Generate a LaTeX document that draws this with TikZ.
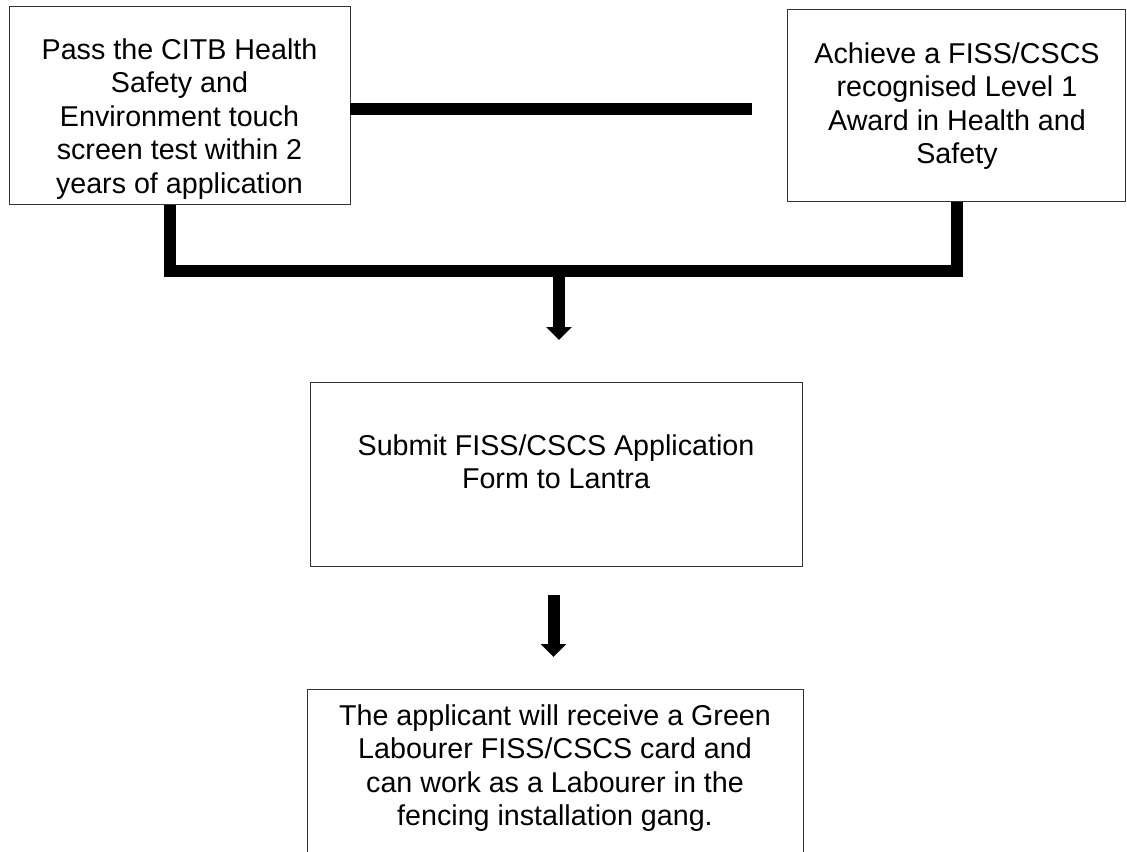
\documentclass[tikz,border=0pt]{standalone}
\usepackage{fontspec}
\setmainfont{Liberation Sans}
\usetikzlibrary{arrows.meta}
\begin{document}
\begin{tikzpicture}[x=0.75pt,y=-0.75pt,
  box/.style={draw=black!80, line width=0.75pt, inner sep=0pt, outer sep=0pt},
  txt/.style={align=center, font=\fontsize{21.5}{25.1}\selectfont, inner sep=0pt},
  bar/.style={line width=9pt, black, line join=miter},
  arrowbar/.style={line width=9pt, black, -{Triangle[width=18.75pt,length=9.75pt]}}]
\useasboundingbox (0,0) rectangle (1127,852);
\clip (0,0) rectangle (1127,852);
\fill[white] (0,0) rectangle (1127,852);
% boxes
\node[box, minimum width=341*0.75pt, minimum height=198*0.75pt] (b1) at (179.5,106) {};
\node[box, minimum width=338*0.75pt, minimum height=192*0.75pt] (b2) at (956,106) {};
\node[box, minimum width=492*0.75pt, minimum height=184*0.75pt] (b3) at (556,474) {};
\node[box, minimum width=496*0.75pt, minimum height=211*0.75pt] (b4) at (555,794.5) {};
% texts
\node[txt] (t1) at (179.5,119) {Pass the CITB Health\\Safety and\\Environment touch\\screen test within 2\\years of application};
\node[txt] (t2) at (957,106) {Achieve a FISS/CSCS\\recognised Level 1\\Award in Health and\\Safety};
\node[txt] (t3) at (556,462) {Submit FISS/CSCS Application\\Form to Lantra};
\node[txt] (t4) at (555,768) {The applicant will receive a Green\\Labourer FISS/CSCS card and\\can work as a Labourer in the\\fencing installation gang.};
% connectors
\coordinate (e1) at (752,109.5);
\draw[bar] (b1.east |- e1) -- (e1);
\coordinate (j1) at (170,271);
\coordinate (j2) at (957,271);
\draw[bar] (b1.south -| j1) -- (j1) -- (j2) -- (b2.south -| j2);
\coordinate (a1s) at (559,271);
\coordinate (a1e) at (559,340);
\draw[arrowbar] (a1s) -- (a1e);
\coordinate (a2s) at (553.5,595);
\coordinate (a2e) at (553.5,657);
\draw[arrowbar] (a2s) -- (a2e);
\end{tikzpicture}
\end{document}
